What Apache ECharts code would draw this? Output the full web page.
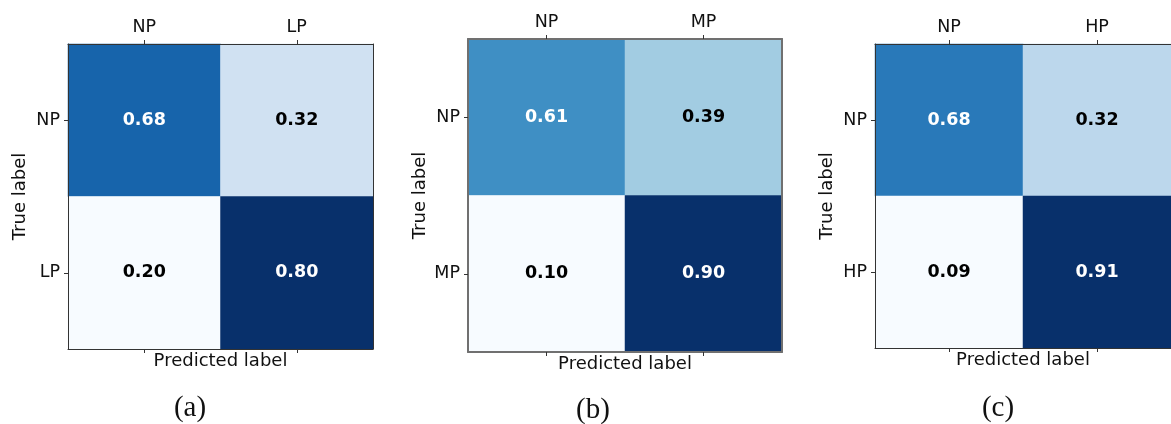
<!DOCTYPE html>
<html><head><meta charset="utf-8">
<script src="https://cdn.jsdelivr.net/npm/echarts@6/dist/echarts.min.js"></script>
<style>html,body{margin:0;padding:0;background:#fff}#c{width:1171px;height:424px}</style>
</head><body><div id="c"></div>
<script>
const catsA = ['NP', 'LP'];
const catsB = ['NP', 'MP'];
const catsC = ['NP', 'HP'];
// row-major: [trueRow][predCol]
const valsA = [[0.68, 0.32], [0.20, 0.80]];
const valsB = [[0.61, 0.39], [0.10, 0.90]];
const valsC = [[0.68, 0.32], [0.09, 0.91]];
const captions = ['(a)', '(b)', '(c)'];
const xName = 'Predicted label';
const yName = 'True label';

const blues = ['#f7fbff','#deebf7','#c6dbef','#9ecae1','#6baed6','#4292c6','#2171b5','#08519c','#08306b'];
const FONT = 'DejaVu Sans';

const panels = [
  {cats: catsA, vals: valsA, grid: {left: 68, top: 44, width: 305, height: 305}, border: '#333', bw: 1, cap: [190, 408]},
  {cats: catsB, vals: valsB, grid: {left: 468, top: 39, width: 314, height: 313}, border: '#707070', bw: 2, cap: [593, 410]},
  {cats: catsC, vals: valsC, grid: {left: 875, top: 44, width: 304, height: 304}, border: '#333', bw: 1, cap: [998, 408]}
];

const grid = [], xAxis = [], yAxis = [], series = [], visualMap = [], graphic = [];
panels.forEach((p, i) => {
  grid.push(Object.assign({containLabel: false}, p.grid));
  const flat = p.vals.flat();
  const mn = Math.min(...flat), mx = Math.max(...flat);
  const thresh = mx / 2;
  const lineStyle = {color: p.border, width: p.bw};
  const labelStyle = {fontFamily: FONT, fontSize: 17.5, color: '#111'};
  xAxis.push({type: 'category', gridIndex: i, data: p.cats, position: 'top', z: 5,
    axisLine: {show: true, lineStyle}, axisTick: {show: true, alignWithLabel: true, length: 4, lineStyle: {color: '#333'}},
    axisLabel: {margin: 8, ...labelStyle}, splitLine: {show: false}});
  xAxis.push({type: 'category', gridIndex: i, data: p.cats, position: 'bottom', z: 5,
    name: xName, nameLocation: 'middle', nameGap: 3, nameTextStyle: {fontFamily: FONT, fontSize: 18, color: '#111', verticalAlign: 'top'},
    axisLine: {show: true, lineStyle}, axisTick: {show: true, alignWithLabel: true, length: 4, lineStyle: {color: '#333'}},
    axisLabel: {show: false}, splitLine: {show: false}});
  yAxis.push({type: 'category', gridIndex: i, data: p.cats, inverse: true, position: 'left', z: 5,
    name: yName, nameLocation: 'middle', nameGap: 39, nameRotate: 90, nameTextStyle: {fontFamily: FONT, fontSize: 18, color: '#111'},
    axisLine: {show: true, lineStyle}, axisTick: {show: true, alignWithLabel: true, length: 4, lineStyle: {color: '#333'}},
    axisLabel: {margin: 8, ...labelStyle}, splitLine: {show: false}});
  yAxis.push({type: 'category', gridIndex: i, data: p.cats, inverse: true, position: 'right', z: 5,
    axisLine: {show: true, lineStyle}, axisTick: {show: false}, axisLabel: {show: false}, splitLine: {show: false}});
  const data = [];
  p.vals.forEach((row, r) => row.forEach((v, c) => {
    data.push({value: [c, r, v], label: {color: v > thresh ? '#ffffff' : '#000000'}});
  }));
  series.push({type: 'heatmap', xAxisIndex: 2 * i, yAxisIndex: 2 * i, data,
    label: {show: true, fontFamily: FONT, fontWeight: 'bold', fontSize: 17.5, formatter: d => d.value[2].toFixed(2)},
    itemStyle: {borderWidth: 0}, emphasis: {disabled: true}});
  visualMap.push({show: false, type: 'continuous', seriesIndex: i, dimension: 2, min: mn, max: mx, inRange: {color: blues}});
  graphic.push({type: 'text', x: p.cap[0], y: p.cap[1], style: {text: captions[i], fontFamily: 'Liberation Serif', fontSize: 29, fill: '#111', textAlign: 'center', textVerticalAlign: 'middle'}});
});

const chart = echarts.init(document.getElementById('c'), null, {renderer: 'canvas'});
chart.setOption({animation: false, backgroundColor: '#fff', grid, xAxis, yAxis, series, visualMap, graphic});
</script></body></html>
